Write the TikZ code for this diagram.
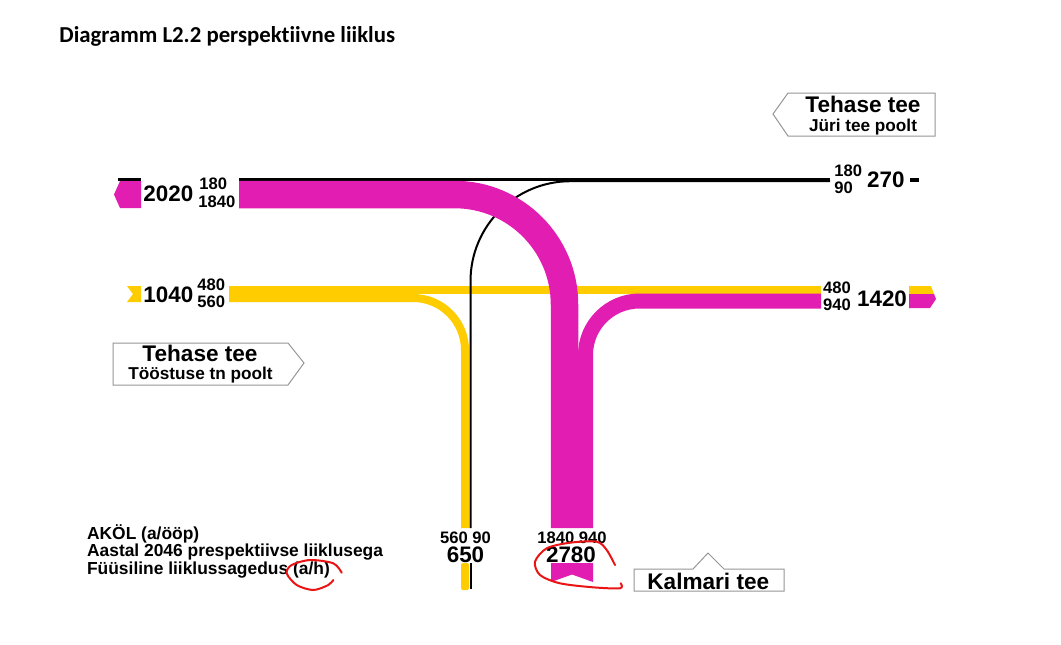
\documentclass[tikz,border=0pt]{standalone}
\usepackage{fontspec}
\setmainfont{Liberation Sans}
\newfontfamily\titlefont[Ligatures=NoCommon]{Carlito}
\definecolor{flowmag}{RGB}{226,30,178}
\definecolor{flowyel}{RGB}{255,204,0}
\definecolor{boxgray}{RGB}{150,150,150}
\definecolor{penred}{RGB}{235,20,20}
\tikzset{
  big/.style={font=\fontsize{11.2}{12}\selectfont\bfseries, inner sep=0pt},
  num/.style={font=\fontsize{8.3}{9}\selectfont\bfseries, inner sep=0pt},
  roadname/.style={font=\fontsize{11.3}{12}\selectfont\bfseries, inner sep=0pt},
  roadsub/.style={font=\fontsize{8.6}{9}\selectfont\bfseries, inner sep=0pt},
  legend/.style={font=\fontsize{8.7}{9}\selectfont\bfseries, inner sep=0pt, anchor=base west},
  roadbox/.style={draw=boxgray, line width=0.5pt, fill=white},
  mag/.style={draw=flowmag},
  yel/.style={draw=flowyel},
  annot/.style={draw=penred, line width=1pt, line cap=round}
}
\begin{document}
\begin{tikzpicture}[x=0.5pt,y=-0.5pt]
  \fill[white] (0,0) rectangle (1061,644);
  \useasboundingbox (0,0) rectangle (1061,644);
  \node[anchor=base west, inner sep=0pt, font={\titlefont\fontsize{11.4}{12}\selectfont\bfseries}] (title) at (59,42.3) {Diagramm L2.2 perspektiivne liiklus};

  \draw[roadbox] (773,114) -- (788,93) -- (935,93) -- (935,136) -- (788,136) -- cycle;
  \node[roadname, anchor=base] (juri) at (863,112) {Tehase tee};
  \node[roadsub, anchor=base] (juris) at (863,131) {Jüri tee poolt};
  \draw[roadbox] (113,343) -- (288,343) -- (304,363) -- (288,385) -- (113,385) -- cycle;
  \node[roadname, anchor=base] (tool) at (200,361.8) {Tehase tee};
  \node[roadsub, anchor=base] (tools) at (200.5,379.3) {Tööstuse tn poolt};
  \draw[roadbox] (634,569) -- (693,569) -- (708,553) -- (724,569) -- (784,569) -- (784,591) -- (634,591) -- cycle;
  \node[roadname, anchor=base] (kalm) at (708.3,589) {Kalmari tee};

  \coordinate (yelW) at (229,290);
  \coordinate (yelE) at (821,290);
  \coordinate (yelT) at (229,298);
  \coordinate (yelS) at (465,528);
  \coordinate (blkW) at (239,179.3);
  \coordinate (blkE) at (830,179.3);
  \coordinate (blkS) at (470.5,528);
  \coordinate (blkT) at (830,181.2);
  \coordinate (magW) at (239,194.5);
  \coordinate (magS) at (564.5,528);
  \coordinate (magE) at (821,301);
  \coordinate (magT) at (585.5,528);

  \draw[yel, line width=4pt] (yelW) -- (yelE);
  \draw[yel, line width=4pt, rounded corners=26pt] (yelT) -| (yelS);
  \draw[line width=1.25pt] (blkW) -- (blkE);
  \draw[line width=1pt, rounded corners=50pt] (blkS) |- (blkT);
  \draw[mag, line width=13.75pt, rounded corners=55pt] (magW) -| (magS);
  \draw[mag, line width=7.5pt, rounded corners=27pt] (magE) -| (magT);

  \fill[flowmag] (141,181) -- (120,181) -- (114,194.5) -- (120,208) -- (141,208) -- cycle;
  \fill (118,177.7) rectangle (141,180.7);
  \fill[flowyel] (141,286) -- (127,286) -- (133,294) -- (127,302) -- (141,302) -- cycle;
  \fill[flowyel] (909,286) -- (931,286) -- (934,294) -- (909,294) -- cycle;
  \fill[flowmag] (909,294) -- (934,294) -- (936,299) -- (930,308) -- (909,308) -- cycle;
  \fill (910,177.7) rectangle (919.3,181.7);
  \fill[flowyel, rounded corners=1pt] (461,563) rectangle (469,590);
  \draw[line width=1pt] (470.5,563) -- (470.5,589);
  \fill[flowmag] (551,563) -- (593,563) -- (593,582) -- (572,574.5) -- (551,582) -- cycle;

  \node[big, anchor=base west] (magWsum) at (143,201.5) {2020};
  \node[num, anchor=base west] (magWa) at (199,189.3) {180};
  \node[num, anchor=base west] (magWb) at (198,207.3) {1840};
  \node[big, anchor=base west] (yelWsum) at (143,302.3) {1040};
  \node[num, anchor=base west] (yelWa) at (197,290) {480};
  \node[num, anchor=base west] (yelWb) at (197,307.3) {560};
  \node[num, anchor=base west] (blkEa) at (834,176.7) {180};
  \node[num, anchor=base west] (blkEb) at (834,193.3) {90};
  \node[big, anchor=base west] (blkEsum) at (866.7,187.3) {270};
  \node[num, anchor=base west] (magEa) at (822.7,293.3) {480};
  \node[num, anchor=base west] (magEb) at (822.7,310.7) {940};
  \node[big, anchor=base west] (magEsum) at (856.7,306) {1420};
  \node[num, anchor=base] (yelSa) at (465.5,543.3) {560 90};
  \node[big, anchor=base] (yelSsum) at (465.5,562.3) {650};
  \node[num, anchor=base] (magSa) at (572,543.3) {1840 940};
  \node[big, anchor=base] (magSsum) at (571,562.3) {2780};

  \foreach \t [count=\i] in {{AKÖL (a/ööp)},{Aastal 2046 prespektiivse liiklusega},{Füüsiline liiklussagedus (a/h)}}
    \node[legend] (leg\i) at (86.7,521.8+17.5*\i) {\t};

  \draw[annot] plot[smooth] coordinates {(341.7,572.7) (333.3,563.3) (310,560) (291.7,565) (286.7,573.3) (296.7,585) (313.3,590) (328.3,585) (333.3,580)};
  \draw[annot] plot[smooth] coordinates {(615,565) (606.7,550) (596.7,541.7) (570,542.7) (546.7,548.3) (535,561.7) (540,575) (560,583.3) (593,587.3) (620,588.3) (620.7,583.3)};
\end{tikzpicture}
\end{document}
